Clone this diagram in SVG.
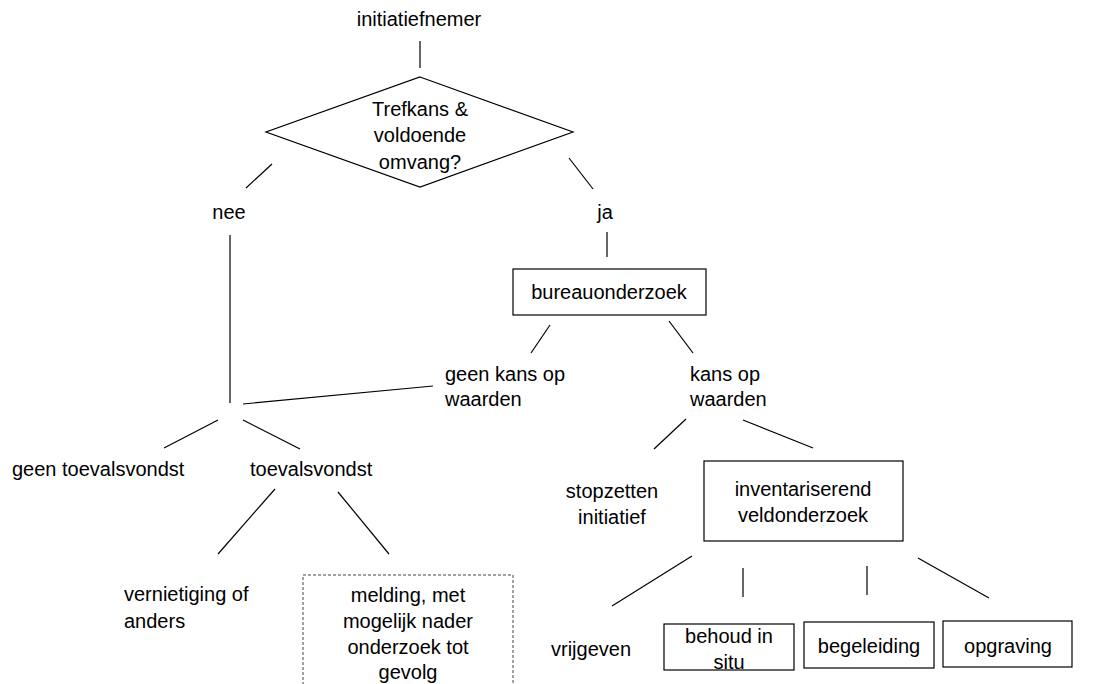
<svg xmlns="http://www.w3.org/2000/svg" width="1113" height="684" viewBox="0 0 1113 684">
<style>
text{font-family:"Liberation Sans",Arial,sans-serif;font-size:20px;fill:#000}
.c{text-anchor:middle}
.box{fill:#fff;stroke:#000;stroke-width:1.2}
.dash{fill:#fff;stroke:#444;stroke-width:1;stroke-dasharray:3 2}
#connectors line{stroke:#000;stroke-width:1.2}
</style>
<rect width="1113" height="684" fill="#fff"/>
<g id="connectors">
<line x1="420" y1="41" x2="420" y2="68"/>
<line x1="272" y1="164" x2="246" y2="188"/>
<line x1="569" y1="158" x2="593" y2="189"/>
<line x1="607" y1="232" x2="607" y2="257"/>
<line x1="230" y1="235" x2="230" y2="403"/>
<line x1="550" y1="325" x2="531" y2="353"/>
<line x1="669" y1="321" x2="693" y2="353"/>
<line x1="243" y1="404" x2="433" y2="386"/>
<line x1="218" y1="420" x2="164" y2="448"/>
<line x1="243" y1="420" x2="300" y2="449"/>
<line x1="275" y1="489" x2="218" y2="554"/>
<line x1="338" y1="492" x2="389" y2="554"/>
<line x1="686" y1="419" x2="654" y2="449"/>
<line x1="743" y1="420" x2="813" y2="448"/>
<line x1="692" y1="556" x2="612" y2="606"/>
<line x1="743" y1="568" x2="743" y2="597"/>
<line x1="867" y1="566" x2="867" y2="595"/>
<line x1="918" y1="558" x2="989" y2="598"/>
</g>
<g id="initiatiefnemer"><text class="c" x="419" y="26">initiatiefnemer</text></g>
<g id="beslissing">
<polygon class="box" points="420,77 573,132 420,187 266,132"/>
<text class="c" x="420" y="116">Trefkans &amp;</text>
<text class="c" x="420" y="142">voldoende</text>
<text class="c" x="420" y="169">omvang?</text>
</g>
<g id="nee"><text class="c" x="229" y="219">nee</text></g>
<g id="ja"><text class="c" x="605" y="219">ja</text></g>
<g id="bureauonderzoek">
<rect class="box" x="513" y="269" width="193" height="46"/>
<text class="c" x="609" y="299">bureauonderzoek</text>
</g>
<g id="geen-kans"><text x="445" y="381">geen kans op</text><text x="445" y="406">waarden</text></g>
<g id="kans"><text x="690" y="381">kans op</text><text x="690" y="406">waarden</text></g>
<g id="geen-toevalsvondst"><text x="12" y="476">geen toevalsvondst</text></g>
<g id="toevalsvondst"><text x="250" y="476">toevalsvondst</text></g>
<g id="vernietiging"><text x="124" y="601">vernietiging of</text><text x="124" y="628">anders</text></g>
<g id="melding">
<rect class="dash" x="303" y="575" width="210" height="115"/>
<text class="c" x="408" y="602">melding, met</text>
<text class="c" x="408" y="628">mogelijk nader</text>
<text class="c" x="408" y="654">onderzoek tot</text>
<text class="c" x="408" y="679">gevolg</text>
</g>
<g id="stopzetten"><text class="c" x="612" y="498">stopzetten</text><text class="c" x="612" y="524">initiatief</text></g>
<g id="inventariserend">
<rect class="box" x="704" y="461" width="199" height="80"/>
<text class="c" x="803" y="496">inventariserend</text>
<text class="c" x="803" y="522">veldonderzoek</text>
</g>
<g id="vrijgeven"><text x="551" y="656">vrijgeven</text></g>
<g id="behoud">
<rect class="box" x="664" y="624" width="130" height="46"/>
<text class="c" x="729" y="643">behoud in</text>
<text class="c" x="729" y="669">situ</text>
</g>
<g id="begeleiding">
<rect class="box" x="804" y="622" width="130" height="46"/>
<text class="c" x="869" y="653">begeleiding</text>
</g>
<g id="opgraving">
<rect class="box" x="943" y="621" width="129" height="46"/>
<text class="c" x="1008" y="653">opgraving</text>
</g>
</svg>
